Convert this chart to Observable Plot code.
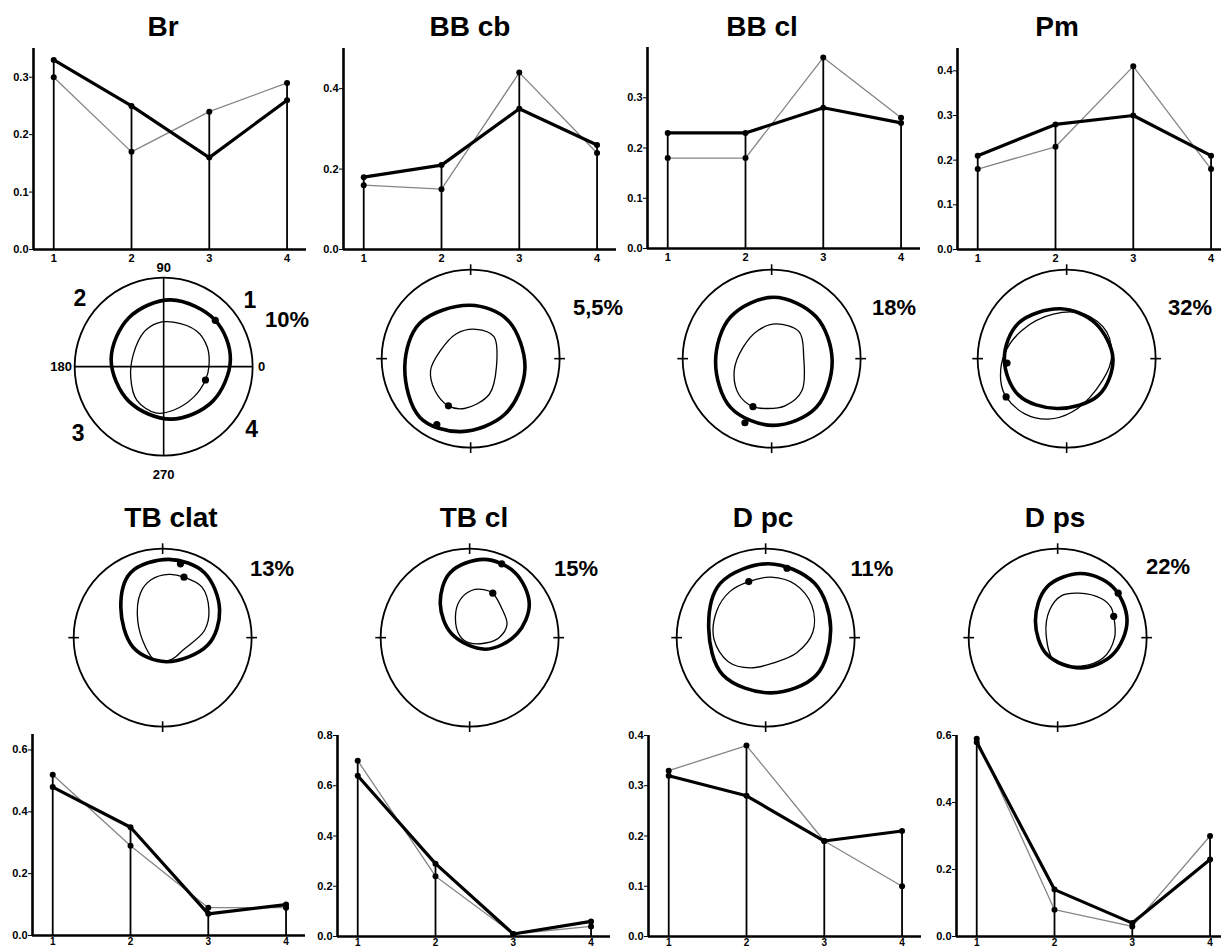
<!DOCTYPE html>
<html><head><meta charset="utf-8">
<script src="https://cdn.jsdelivr.net/npm/d3@7"></script>
<script src="https://cdn.jsdelivr.net/npm/@observablehq/plot@0.6"></script>
<style>
body{margin:0;background:#fff;font-family:"Liberation Sans",Arial,sans-serif;}
#root{position:relative;width:1221px;height:951px;overflow:hidden;background:#fff;}
#root svg{position:absolute;}
.lbl{position:absolute;font-weight:bold;line-height:1;white-space:nowrap;transform:translateX(-50%);color:#000;}
</style></head><body><div id="root"></div>
<script>
// ---------------- DATA ----------------
const quarters = [1, 2, 3, 4];
const panels = ["Br", "BB cb", "BB cl", "Pm", "TB clat", "TB cl", "D pc", "D ps"];
const thickValues = [
  [0.33, 0.25, 0.16, 0.26],
  [0.18, 0.21, 0.35, 0.26],
  [0.23, 0.23, 0.28, 0.25],
  [0.21, 0.28, 0.30, 0.21],
  [0.48, 0.35, 0.07, 0.10],
  [0.64, 0.29, 0.01, 0.06],
  [0.32, 0.28, 0.19, 0.21],
  [0.58, 0.14, 0.04, 0.23]
];
const thinValues = [
  [0.30, 0.17, 0.24, 0.29],
  [0.16, 0.15, 0.44, 0.24],
  [0.18, 0.18, 0.38, 0.26],
  [0.18, 0.23, 0.41, 0.18],
  [0.52, 0.29, 0.09, 0.09],
  [0.70, 0.24, 0.01, 0.04],
  [0.33, 0.38, 0.19, 0.10],
  [0.59, 0.08, 0.03, 0.30]
];
const yMax = [0.35, 0.5, 0.4, 0.45, 0.65, 0.8, 0.4, 0.6];
const yTicks = [
  [0, 0.1, 0.2, 0.3],
  [0, 0.2, 0.4],
  [0, 0.1, 0.2, 0.3],
  [0, 0.1, 0.2, 0.3, 0.4],
  [0, 0.2, 0.4, 0.6],
  [0, 0.2, 0.4, 0.6, 0.8],
  [0, 0.1, 0.2, 0.3, 0.4],
  [0, 0.2, 0.4, 0.6]
];
const percents = ["10%", "5,5%", "18%", "32%", "13%", "15%", "11%", "22%"];
const degreeLabels = ["0", "90", "180", "270"];
const quadrantLabels = ["1", "2", "3", "4"];
const cardinalAngles = [0, 90, 180, 270];

// polar loops, points (outer circle radius = 1)
const thickLoops = [
  [[0.75,0.08],[0.58,0.52],[0.08,0.75],[-0.39,0.55],[-0.59,0.08],[-0.39,-0.39],[0.08,-0.59],[0.55,-0.39]],
  [[-0.01,0.60],[0.42,0.43],[0.61,-0.11],[0.39,-0.62],[-0.11,-0.82],[-0.57,-0.66],[-0.74,-0.09],[-0.57,0.40]],
  [[0.02,0.69],[0.50,0.47],[0.68,-0.03],[0.50,-0.55],[0.02,-0.75],[-0.46,-0.55],[-0.63,-0.03],[-0.46,0.47]],
  [[-0.07,0.56],[0.32,0.40],[0.52,0.0],[0.36,-0.41],[-0.11,-0.56],[-0.54,-0.41],[-0.70,0.0],[-0.54,0.40]],
  [[0.07,0.88],[0.47,0.73],[0.64,0.31],[0.51,-0.08],[0.04,-0.27],[-0.33,-0.11],[-0.47,0.34],[-0.36,0.73]],
  [[0.16,0.88],[0.51,0.73],[0.67,0.38],[0.53,0.04],[0.18,-0.13],[-0.20,0.04],[-0.33,0.38],[-0.22,0.73]],
  [[0.03,0.83],[0.55,0.61],[0.73,0.11],[0.57,-0.42],[0.06,-0.62],[-0.48,-0.42],[-0.64,0.11],[-0.51,0.61]],
  [[0.26,0.72],[0.62,0.57],[0.78,0.19],[0.62,-0.19],[0.26,-0.34],[-0.12,-0.19],[-0.25,0.19],[-0.12,0.57]]
];
const thinLoops = [
  [[0.11,0.50],[0.37,0.40],[0.49,0.22],[0.51,0.01],[0.47,-0.15],[0.34,-0.34],[0.11,-0.49],[-0.09,-0.52],[-0.30,-0.38],[-0.37,-0.12],[-0.34,0.14],[-0.22,0.39],[-0.07,0.49]],
  [[0.06,0.33],[0.26,0.25],[0.29,-0.09],[0.21,-0.40],[-0.07,-0.56],[-0.25,-0.53],[-0.40,-0.36],[-0.45,-0.13],[-0.34,0.09],[-0.16,0.28]],
  [[0.05,0.39],[0.31,0.30],[0.36,0.02],[0.34,-0.36],[0.15,-0.53],[-0.05,-0.56],[-0.21,-0.54],[-0.37,-0.40],[-0.42,-0.13],[-0.32,0.13],[-0.15,0.32]],
  [[0.45,0.30],[0.20,0.50],[-0.15,0.50],[-0.50,0.32],[-0.70,0.05],[-0.74,-0.25],[-0.68,-0.43],[-0.47,-0.62],[-0.21,-0.68],[0.06,-0.60],[0.33,-0.35],[0.50,-0.02]],
  [[0.24,0.68],[0.44,0.57],[0.52,0.31],[0.47,0.08],[0.24,-0.13],[0.09,-0.25],[-0.09,-0.25],[-0.19,-0.11],[-0.28,0.19],[-0.25,0.50],[-0.13,0.65],[0.07,0.71]],
  [[0.26,0.50],[0.37,0.31],[0.42,0.15],[0.33,0.0],[0.18,-0.06],[0.0,-0.06],[-0.11,0.02],[-0.16,0.23],[-0.11,0.42],[0.02,0.53],[0.16,0.54]],
  [[-0.19,0.63],[0.06,0.68],[0.33,0.60],[0.52,0.36],[0.53,0.06],[0.35,-0.17],[0.10,-0.28],[-0.17,-0.34],[-0.42,-0.27],[-0.58,-0.02],[-0.55,0.30],[-0.40,0.52]],
  [[0.63,0.24],[0.64,0.0],[0.51,-0.23],[0.26,-0.32],[-0.03,-0.27],[-0.13,0.04],[-0.09,0.31],[0.04,0.47],[0.24,0.50],[0.49,0.44],[0.60,0.34]]
];
const thickDots = [[0.58,0.52],[-0.38,-0.74],[-0.30,-0.72],[-0.67,-0.05],[0.20,0.83],[0.36,0.83],[0.24,0.78],[0.68,0.50]];
const thinDots = [[0.47,-0.15],[-0.25,-0.53],[-0.21,-0.54],[-0.68,-0.43],[0.24,0.68],[0.26,0.50],[-0.19,0.63],[0.63,0.24]];

// ---------------- LAYOUT ----------------
const FONT = '"Liberation Sans", Arial, sans-serif';
const chartPos = [[33,249],[343,249],[647,248],[957,249],[32,935],[337,936],[648,936],[956,936]]; // axis x, baseline y
const polarCenter = [[163,366],[470,358],[771,358],[1066,358],[162,637],[469,637],[765,637],[1057,637]];
const titlePos = [[163,37],[470,37],[762,37],[1057,37],[171,528],[474,528],[763,528],[1055,528]];
const percentPos = [[287,320],[598,308],[894,308],[1190,308],[272,569],[576,569],[872,569],[1168,567]];
const degreePos = [[1.06,0,"start"],[0,1.11,"middle"],[-1.03,0,"end"],[0,-1.21,"middle"]];
const quadrantPos = [[0.97,0.74],[-0.94,0.76],[-0.96,-0.75],[0.99,-0.71]];
const R = 89;

const root = document.getElementById("root");

function place(el, left, top) {
  el.style.position = "absolute";
  el.style.left = left + "px";
  el.style.top = top + "px";
  el.style.background = "transparent";
  el.style.maxWidth = "none";
  root.appendChild(el);
}

function lineChart(i) {
  const [axisX, baseY] = chartPos[i];
  const bottomRow = i >= 4;
  const rows = quarters.map((q, j) => ({q, thick: thickValues[i][j], thin: thinValues[i][j]}));
  const mL = 40, mR = 4, mT = 10, mB = 22, plotW = 273, plotH = 201;
  const svg = Plot.plot({
    width: mL + plotW + mR, height: mT + plotH + mB,
    marginLeft: mL, marginRight: mR, marginTop: mT, marginBottom: mB,
    style: {background: "transparent", fontFamily: FONT, overflow: "visible"},
    x: {domain: [0.74, 4.25], axis: null},
    y: {domain: [0, yMax[i]], axis: null},
    marks: [
      Plot.ruleX(rows, {x: "q", y1: 0, y2: d => Math.max(d.thick, d.thin), stroke: "#000", strokeWidth: 1.8}),
      Plot.line(rows, {x: "q", y: "thin", stroke: "#858585", strokeWidth: 1.3}),
      Plot.line(rows, {x: "q", y: "thick", stroke: "#000", strokeWidth: 3.2}),
      Plot.dot(rows, {x: "q", y: "thin", r: 3, fill: "#000"}),
      Plot.dot(rows, {x: "q", y: "thick", r: 3, fill: "#000"}),
      Plot.ruleX([0.74], {y1: 0, y2: yMax[i], stroke: "#000", strokeWidth: 2.6}),
      Plot.ruleY([0], {stroke: "#000", strokeWidth: 2.6}),
      Plot.axisY({ticks: yTicks[i], tickSize: 4, tickPadding: 1, tickFormat: d3.format(".1f"), fontSize: 11, fontWeight: "bold", label: null}),
      Plot.axisX({ticks: quarters, tickSize: 0, tickPadding: bottomRow ? 2 : 5, tickFormat: d => String(d), fontSize: bottomRow ? 10 : 11, fontWeight: "bold", label: null})
    ]
  });
  place(svg, axisX - mL, baseY - plotH - mT);
}

function polarPlot(i) {
  const [cx, cy] = polarCenter[i];
  const E = 1.35;
  const pt = {x: d => d[0], y: d => d[1]};
  const marks = [
    Plot.dot([[0, 0]], {...pt, r: R, stroke: "#000", strokeWidth: 1.8, fill: "none"}),
    Plot.line(thinLoops[i], {...pt, curve: "catmull-rom-closed", stroke: "#000", strokeWidth: 1.3}),
    Plot.line(thickLoops[i], {...pt, curve: "catmull-rom-closed", stroke: "#000", strokeWidth: 3.6}),
    Plot.dot([thickDots[i], thinDots[i]], {...pt, r: 3.6, fill: "#000"})
  ];
  if (i === 0) {
    marks.push(
      Plot.ruleX([0], {y1: -1, y2: 1, stroke: "#000", strokeWidth: 1.6}),
      Plot.ruleY([0], {x1: -1, x2: 1, stroke: "#000", strokeWidth: 1.6})
    );
    degreeLabels.forEach((t, k) => {
      const [u, v, anchor] = degreePos[k];
      marks.push(Plot.text([t], {x: () => u, y: () => v, text: d => d, textAnchor: anchor, fontSize: 13, fontWeight: "bold", fill: "#000"}));
    });
    marks.push(Plot.text(quadrantLabels, {x: (d, k) => quadrantPos[k][0], y: (d, k) => quadrantPos[k][1], text: d => d, fontSize: 23, fontWeight: "bold", fill: "#000"}));
  } else {
    marks.push(Plot.link(cardinalAngles, {
      x1: a => 0.94 * Math.cos(a * Math.PI / 180), y1: a => 0.94 * Math.sin(a * Math.PI / 180),
      x2: a => 1.06 * Math.cos(a * Math.PI / 180), y2: a => 1.06 * Math.sin(a * Math.PI / 180),
      stroke: "#000", strokeWidth: 1.6
    }));
  }
  const svg = Plot.plot({
    width: 2 * E * R, height: 2 * E * R, margin: 0,
    style: {background: "transparent", fontFamily: FONT, overflow: "visible"},
    x: {domain: [-E, E], axis: null},
    y: {domain: [-E, E], axis: null},
    marks
  });
  place(svg, cx - E * R, cy - E * R);
}

function label(text, cx, top, size) {
  const d = document.createElement("div");
  d.className = "lbl";
  d.textContent = text;
  d.style.fontSize = size + "px";
  d.style.left = cx + "px";
  d.style.top = top + "px";
  root.appendChild(d);
}

panels.forEach((name, i) => {
  lineChart(i);
  polarPlot(i);
  const [tx, tb] = titlePos[i];
  label(name, tx, tb - 0.8465 * 28, 28);
  const [px, py] = percentPos[i];
  label(percents[i], px, py - 0.489 * 22, 22);
});
</script>
</body></html>
